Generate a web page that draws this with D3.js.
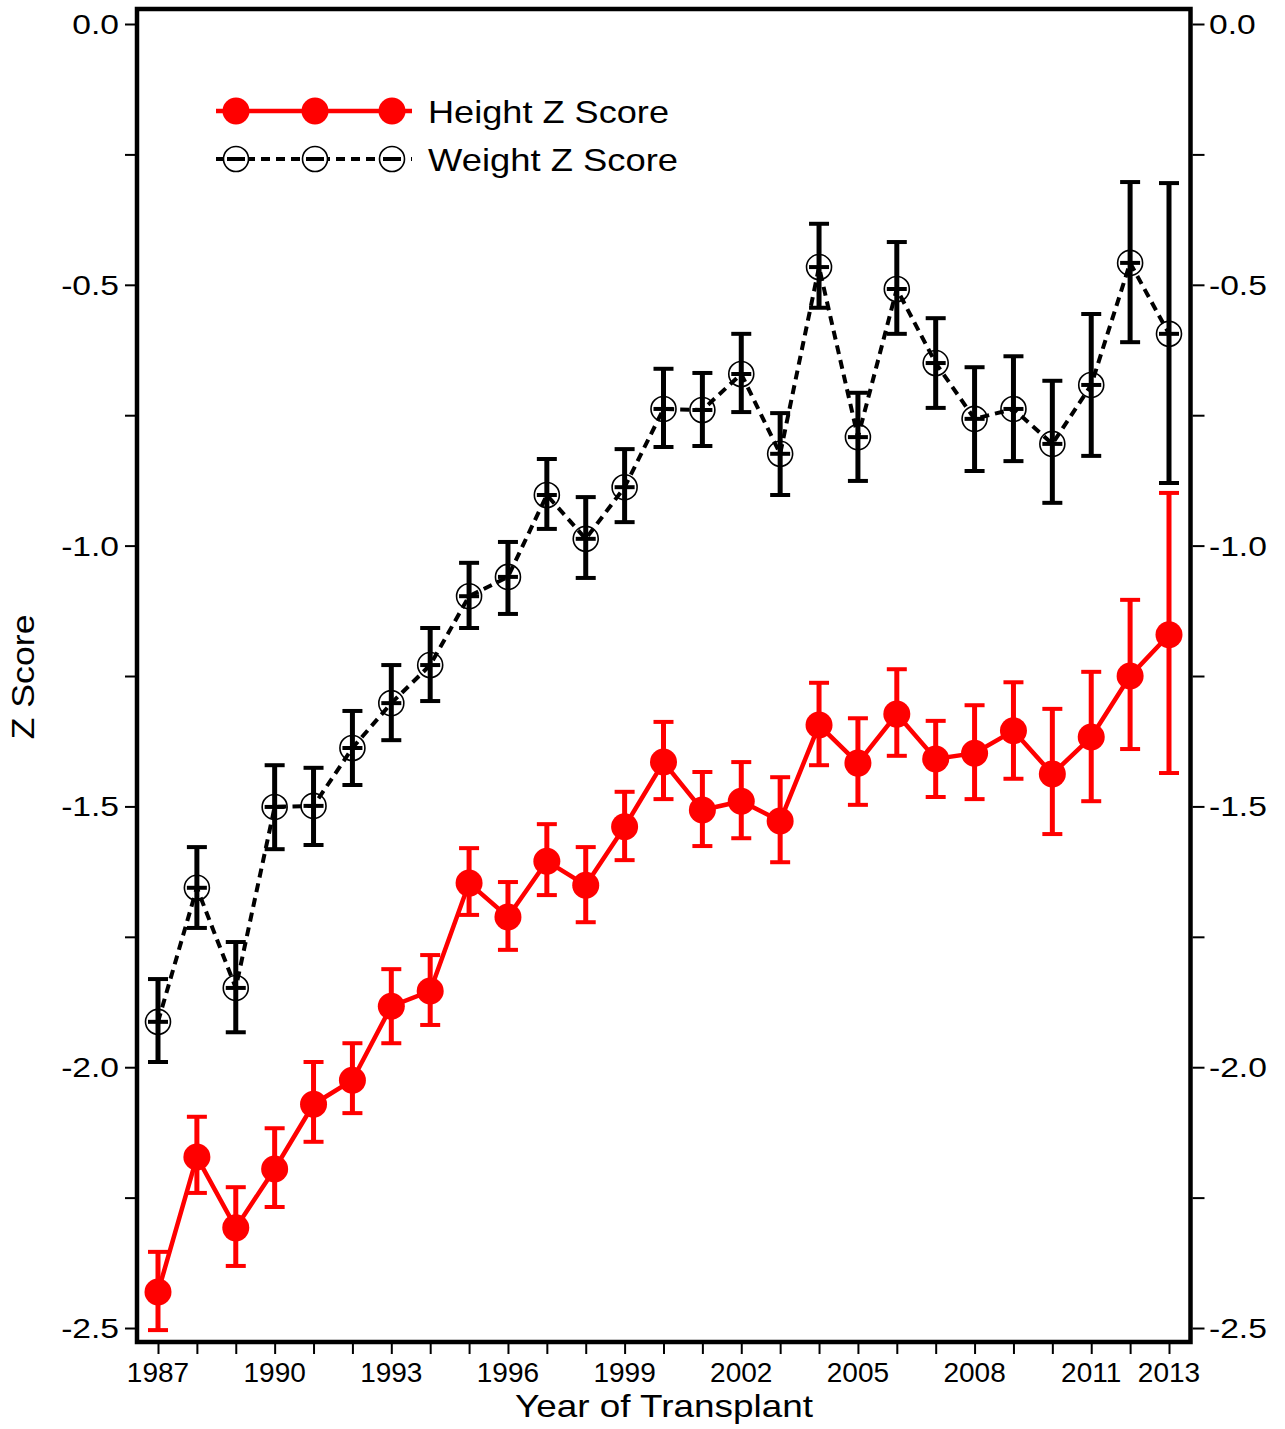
<!DOCTYPE html>
<html><head><meta charset="utf-8">
<script src="https://cdn.jsdelivr.net/npm/d3@7"></script>
<style>body{margin:0;background:#fff;} text{font-family:"Liberation Sans",Arial,sans-serif;fill:#000;}</style>
</head><body><svg id="c" width="1285" height="1429"></svg>
<script>
const years = [1987,1988,1989,1990,1991,1992,1993,1994,1995,1996,1997,1998,1999,2000,2001,2002,2003,2004,2005,2006,2007,2008,2009,2010,2011,2012,2013];
const heightMean = [-2.431,-2.172,-2.308,-2.195,-2.071,-2.025,-1.883,-1.854,-1.647,-1.712,-1.605,-1.651,-1.539,-1.415,-1.507,-1.490,-1.528,-1.344,-1.417,-1.323,-1.409,-1.398,-1.355,-1.438,-1.367,-1.250,-1.171];
const heightHigh = [-2.354,-2.095,-2.230,-2.117,-1.990,-1.954,-1.812,-1.785,-1.580,-1.645,-1.534,-1.578,-1.472,-1.338,-1.434,-1.415,-1.444,-1.263,-1.331,-1.237,-1.336,-1.306,-1.262,-1.313,-1.242,-1.104,-0.899];
const heightLow  = [-2.504,-2.241,-2.381,-2.268,-2.143,-2.088,-1.954,-1.919,-1.708,-1.775,-1.670,-1.722,-1.603,-1.486,-1.576,-1.561,-1.607,-1.421,-1.497,-1.403,-1.482,-1.486,-1.447,-1.553,-1.490,-1.390,-1.436];
const weightMean = [-1.913,-1.656,-1.848,-1.501,-1.499,-1.388,-1.302,-1.229,-1.097,-1.060,-0.903,-0.987,-0.888,-0.738,-0.740,-0.671,-0.824,-0.466,-0.792,-0.508,-0.650,-0.757,-0.738,-0.805,-0.692,-0.458,-0.594];
const weightHigh = [-1.831,-1.578,-1.760,-1.421,-1.426,-1.317,-1.229,-1.158,-1.033,-0.993,-0.834,-0.907,-0.815,-0.661,-0.669,-0.594,-0.746,-0.383,-0.707,-0.418,-0.564,-0.658,-0.637,-0.684,-0.556,-0.303,-0.305];
const weightLow  = [-1.990,-1.733,-1.933,-1.582,-1.574,-1.459,-1.373,-1.298,-1.158,-1.131,-0.968,-1.062,-0.955,-0.811,-0.809,-0.744,-0.903,-0.544,-0.876,-0.594,-0.736,-0.857,-0.838,-0.918,-0.828,-0.610,-0.880];
const xTickLabels = [1987,1990,1993,1996,1999,2002,2005,2008,2011,2013];
const yTickLabels = [0.0,-0.5,-1.0,-1.5,-2.0,-2.5];
const seriesNames = ["Height Z Score","Weight Z Score"];

const svg = d3.select("#c");
const L = 137, R = 1190.5, T = 9, B = 1342;
const x = d3.scaleLinear().domain([1986.46, 2013.553]).range([L, R]);
const y = d3.scaleLinear().domain([0.02876, -2.5268]).range([T, B]);

const red = "#ff0000";
const fmt = d => d.toFixed(1).replace("\u2212","-");

// Y axes (left and right), ticks every 0.25
const yTicks = d3.range(0, -2.5001, -0.25).map(v => +v.toFixed(2));
const yAxisL = d3.axisLeft(y).tickValues(yTicks).tickSize(10).tickPadding(0).tickFormat("");
const yAxisR = d3.axisRight(y).tickValues(yTicks).tickSize(12).tickPadding(0).tickFormat("");
const gl = svg.append("g").attr("transform", `translate(${L-2},0)`).call(yAxisL);
const gr = svg.append("g").attr("transform", `translate(${R+2},0)`).call(yAxisR);
[gl, gr].forEach(g => { g.select(".domain").remove(); g.selectAll("line").attr("stroke","#000").attr("stroke-width",2); });

const sx = 1.2;
svg.append("g").selectAll("text").data(yTickLabels).join("text")
  .attr("transform", d => `translate(119,${y(d)}) scale(${sx},1)`)
  .attr("text-anchor","end").attr("dy","0.36em").attr("font-size",28)
  .text(fmt);
svg.append("g").selectAll("text").data(yTickLabels).join("text")
  .attr("transform", d => `translate(1209,${y(d)}) scale(${sx},1)`)
  .attr("text-anchor","start").attr("dy","0.36em").attr("font-size",28)
  .text(fmt);

// X axis
const xAxis = d3.axisBottom(x).tickValues(years).tickSize(10).tickPadding(0).tickFormat("");
const gx = svg.append("g").attr("transform", `translate(0,${B+2})`).call(xAxis);
gx.select(".domain").remove();
gx.selectAll("line").attr("stroke","#000").attr("stroke-width",2);
svg.append("g").selectAll("text").data(xTickLabels).join("text")
  .attr("x", d => x(d)).attr("y", 1382).attr("text-anchor","middle").attr("font-size",28)
  .text(d => d);

// Frame
svg.append("rect").attr("x",L).attr("y",T).attr("width",R-L).attr("height",B-T)
  .attr("fill","none").attr("stroke","#000").attr("stroke-width",4.5);

// Axis titles
svg.append("text").attr("x",664).attr("y",1417).attr("text-anchor","middle").attr("font-size",32)
  .attr("textLength",298).attr("lengthAdjust","spacingAndGlyphs").text("Year of Transplant");
svg.append("text").attr("transform","translate(34,677) rotate(-90)").attr("text-anchor","middle").attr("font-size",32)
  .attr("textLength",125).attr("lengthAdjust","spacingAndGlyphs").text("Z Score");

const idx = d3.range(years.length);
const cap = 10;

// Weight series
const gw = svg.append("g");
gw.append("path").datum(idx).attr("fill","none").attr("stroke","#000").attr("stroke-width",4)
  .attr("stroke-dasharray","9,6")
  .attr("d", d3.line().x(i => x(years[i])).y(i => y(weightMean[i])));
gw.selectAll(".eb").data(idx).join("line").attr("class","eb")
  .attr("x1", i => x(years[i])).attr("x2", i => x(years[i]))
  .attr("y1", i => y(weightHigh[i])).attr("y2", i => y(weightLow[i]))
  .attr("stroke","#000").attr("stroke-width",5);
["High","Low"].forEach(k => {
  const arr = k === "High" ? weightHigh : weightLow;
  gw.selectAll(".c"+k).data(idx).join("line").attr("class","c"+k)
    .attr("x1", i => x(years[i]) - cap).attr("x2", i => x(years[i]) + cap)
    .attr("y1", i => y(arr[i])).attr("y2", i => y(arr[i]))
    .attr("stroke","#000").attr("stroke-width",4);
});
gw.selectAll(".mk").data(idx).join("circle").attr("class","mk")
  .attr("cx", i => x(years[i])).attr("cy", i => y(weightMean[i])).attr("r",12.5)
  .attr("fill","none").attr("stroke","#000").attr("stroke-width",1.6);
gw.selectAll(".md").data(idx).join("line").attr("class","md")
  .attr("x1", i => x(years[i]) - cap).attr("x2", i => x(years[i]) + cap)
  .attr("y1", i => y(weightMean[i])).attr("y2", i => y(weightMean[i]))
  .attr("stroke","#000").attr("stroke-width",4);

// Height series
const gh = svg.append("g");
gh.append("path").datum(idx).attr("fill","none").attr("stroke",red).attr("stroke-width",4.5)
  .attr("d", d3.line().x(i => x(years[i])).y(i => y(heightMean[i])));
gh.selectAll(".eb").data(idx).join("line").attr("class","eb")
  .attr("x1", i => x(years[i])).attr("x2", i => x(years[i]))
  .attr("y1", i => y(heightHigh[i])).attr("y2", i => y(heightLow[i]))
  .attr("stroke",red).attr("stroke-width",5);
["High","Low"].forEach(k => {
  const arr = k === "High" ? heightHigh : heightLow;
  gh.selectAll(".c"+k).data(idx).join("line").attr("class","c"+k)
    .attr("x1", i => x(years[i]) - cap).attr("x2", i => x(years[i]) + cap)
    .attr("y1", i => y(arr[i])).attr("y2", i => y(arr[i]))
    .attr("stroke",red).attr("stroke-width",4);
});
gh.selectAll(".mk").data(idx).join("circle").attr("class","mk")
  .attr("cx", i => x(years[i])).attr("cy", i => y(heightMean[i])).attr("r",13.5)
  .attr("fill",red);

// Legend
const lg = svg.append("g");
const lx = [236, 315, 392];
lg.append("line").attr("x1",216).attr("x2",412).attr("y1",111).attr("y2",111).attr("stroke",red).attr("stroke-width",4.5);
lg.selectAll(".lm").data(lx).join("circle").attr("class","lm").attr("cx",d=>d).attr("cy",111).attr("r",13.5).attr("fill",red);
lg.append("line").attr("x1",216).attr("x2",412).attr("y1",159).attr("y2",159).attr("stroke","#000").attr("stroke-width",4).attr("stroke-dasharray","9,6");
lg.selectAll(".lw").data(lx).join("circle").attr("class","lw").attr("cx",d=>d).attr("cy",159).attr("r",12.5)
  .attr("fill","#fff").attr("stroke","#000").attr("stroke-width",1.6);
lg.selectAll(".ld").data(lx).join("line").attr("class","ld").attr("x1",d=>d-9).attr("x2",d=>d+9).attr("y1",159).attr("y2",159)
  .attr("stroke","#000").attr("stroke-width",4);
lg.selectAll(".lt").data(seriesNames).join("text").attr("class","lt")
  .attr("x",428).attr("y",(d,i)=> i===0 ? 123 : 171).attr("font-size",32)
  .attr("textLength",(d,i)=> i===0 ? 241 : 250).attr("lengthAdjust","spacingAndGlyphs").text(d=>d);
</script></body></html>
